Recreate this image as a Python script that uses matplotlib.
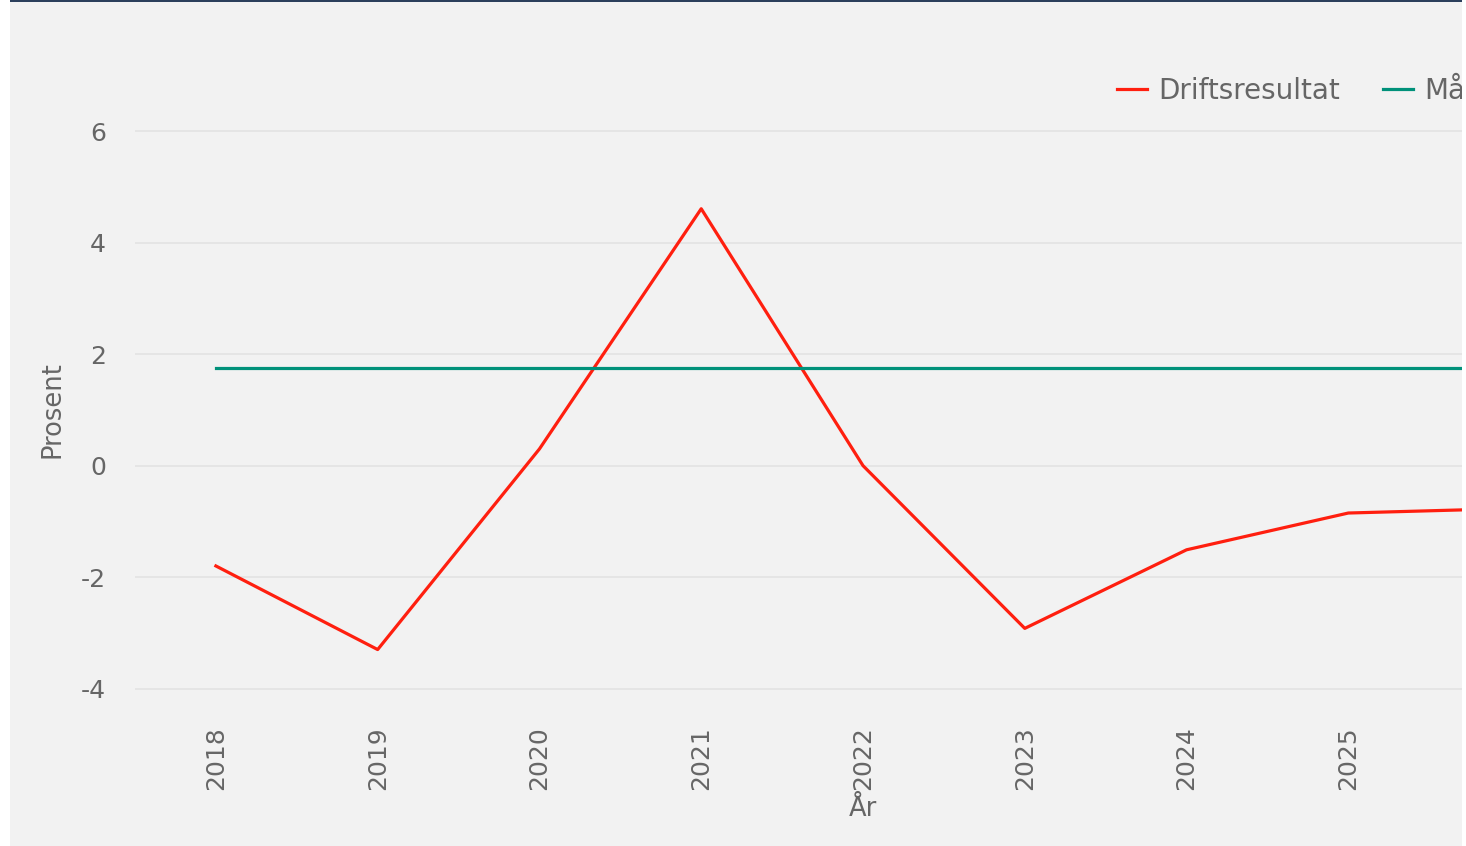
import matplotlib
matplotlib.use("Agg")
import matplotlib.pyplot as plt
from matplotlib.patches import Rectangle

years = [2018, 2019, 2020, 2021, 2022, 2023, 2024, 2025, 2026]
driftsresultat = [-1.80, -3.30, 0.30, 4.61, 0.0, -2.92, -1.51, -0.85, -0.77]
maltall = [1.75] * len(years)
yticks = [-4, -2, 0, 2, 4, 6]
series_names = ["Driftsresultat", "Måltall"]

W, H = 1466, 846
fig = plt.figure(figsize=(W / 100, H / 100), dpi=100)
fig.patch.set_facecolor("white")
# gray panel and top border
fig.patches.append(Rectangle((10 / W, 0), 1, (H - 1) / H, transform=fig.transFigure,
                             facecolor="#f2f2f2", edgecolor="none", zorder=-10))
fig.patches.append(Rectangle((10 / W, (H - 2) / H), 1, 2 / H, transform=fig.transFigure,
                             facecolor="#2b3f5c", edgecolor="none", zorder=-9))

left_px, right_px, top_px, bottom_px = 135, 1591, 109, 722
ax = fig.add_axes([left_px / W, (H - bottom_px) / H, (right_px - left_px) / W,
                   (bottom_px - top_px) / H])
ax.set_facecolor("none")
ax.plot(years, driftsresultat, color="#ff1f0f", lw=2.3, label=series_names[0], zorder=3)
ax.plot(years, maltall, color="#00917a", lw=2.3, label=series_names[1], zorder=3)
ax.set_xlim(2017.5, 2026.5)
ax.set_ylim(-4.6, 6.4)
ax.set_yticks(yticks)
ax.set_yticklabels([str(v) for v in yticks])
ax.set_xticks(years)
ax.set_xticklabels([str(y) for y in years], rotation=90)
for s in ax.spines.values():
    s.set_visible(False)
ax.grid(axis="y", color="#e3e3e3", lw=1.2)
ax.grid(axis="x", visible=False)
ax.set_axisbelow(True)
ax.tick_params(length=0, colors="#666666", labelsize=18)
ax.tick_params(axis="y", pad=21)
ax.tick_params(axis="x", pad=3)
ax.set_ylabel("Prosent", color="#666666", fontsize=18.5)
ax.yaxis.set_label_coords((52 - left_px) / (right_px - left_px), (bottom_px - 410) / (bottom_px - top_px))
ax.yaxis.label.set_verticalalignment("center")
ax.set_xlabel("År", color="#666666", fontsize=18.5, labelpad=4)

leg = fig.legend(loc="center left", bbox_to_anchor=(1117 / W, (H - 91) / H), ncol=2,
                 frameon=False, fontsize=20, handlelength=1.08, columnspacing=1.55,
                 handletextpad=0.4, borderpad=0, borderaxespad=0, labelcolor="#666666")

# white strip at the right edge (the chart is cropped there)
fig.add_artist(Rectangle((1462 / W, 0), 4 / W, 1, transform=fig.transFigure,
                         facecolor="white", edgecolor="none", zorder=20))
fig.savefig("out.png", dpi=100, facecolor=fig.get_facecolor())
